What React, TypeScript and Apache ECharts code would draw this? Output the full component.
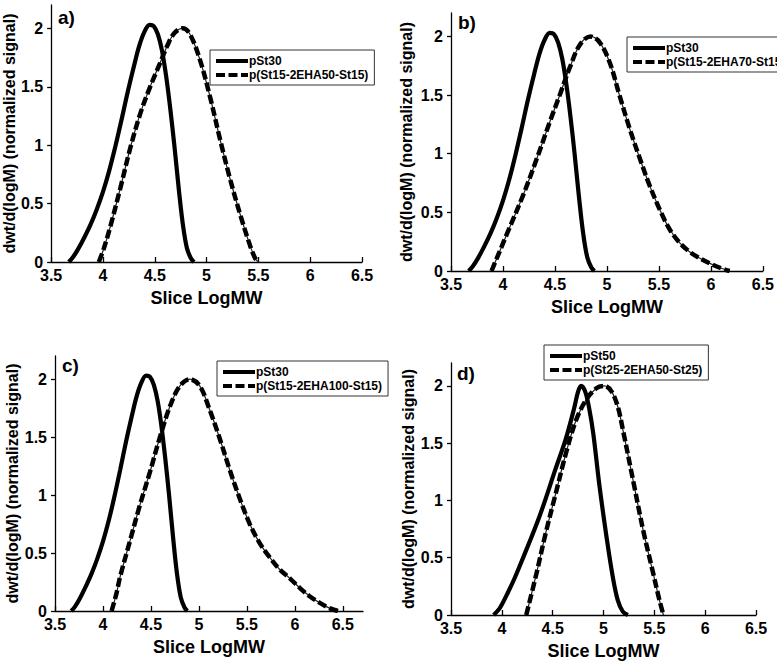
import React, { useEffect, useRef } from "react";
import * as echarts from "echarts";

// ---- data ----
const xTicks = [3.5, 4, 4.5, 5, 5.5, 6, 6.5];
const yTicks = [0, 0.5, 1, 1.5, 2];
const panelLabels = ["a)", "b)", "c)", "d)"];
const solidNames = ["pSt30", "pSt30", "pSt30", "pSt50"];
const dashedNames = [
  "p(St15-2EHA50-St15)",
  "p(St15-2EHA70-St15)",
  "p(St15-2EHA100-St15)",
  "p(St25-2EHA50-St25)",
];

const pSt30 = [
  [3.67, 0], [3.71, 0.04], [3.76, 0.11], [3.82, 0.21], [3.88, 0.32], [3.94, 0.45],
  [4.0, 0.6], [4.06, 0.78], [4.12, 0.99], [4.18, 1.22], [4.24, 1.46], [4.3, 1.68],
  [4.35, 1.85], [4.4, 1.97], [4.45, 2.03], [4.49, 2.02], [4.53, 1.95], [4.57, 1.81],
  [4.61, 1.59], [4.65, 1.31], [4.69, 0.99], [4.73, 0.64], [4.77, 0.33], [4.81, 0.12],
  [4.85, 0.03], [4.88, 0],
];
const pSt15EHA50 = [
  [3.96, 0], [4.01, 0.12], [4.07, 0.3], [4.17, 0.64], [4.265, 0.98], [4.36, 1.27],
  [4.46, 1.51], [4.55, 1.7], [4.62, 1.85], [4.69, 1.96], [4.77, 2.0], [4.84, 1.95],
  [4.94, 1.72], [5.04, 1.39], [5.13, 1.05], [5.23, 0.7], [5.33, 0.39], [5.42, 0.14],
  [5.47, 0.03], [5.5, 0],
];
const pSt15EHA70 = [
  [3.89, 0], [3.96, 0.15], [4.04, 0.32], [4.2, 0.66], [4.33, 0.97], [4.45, 1.27],
  [4.55, 1.51], [4.645, 1.74], [4.74, 1.93], [4.84, 2.0], [4.93, 1.95], [5.03, 1.77],
  [5.12, 1.5], [5.22, 1.21], [5.32, 0.95], [5.41, 0.73], [5.51, 0.52], [5.6, 0.36],
  [5.7, 0.24], [5.8, 0.16], [5.89, 0.11], [5.99, 0.065], [6.08, 0.03], [6.18, 0],
];
const pSt15EHA100 = [
  [4.09, 0], [4.14, 0.15], [4.18, 0.3], [4.28, 0.6], [4.38, 0.9], [4.49, 1.2],
  [4.59, 1.49], [4.7, 1.77], [4.8, 1.94], [4.905, 2.0], [5.01, 1.94], [5.11, 1.74],
  [5.22, 1.48], [5.32, 1.22], [5.43, 0.96], [5.53, 0.75], [5.63, 0.59], [5.74, 0.46],
  [5.84, 0.36], [5.95, 0.28], [6.05, 0.2], [6.15, 0.13], [6.26, 0.07], [6.36, 0.025],
  [6.45, 0],
];
const pSt50 = [
  [3.92, 0], [3.98, 0.06], [4.04, 0.16], [4.12, 0.31], [4.2, 0.48], [4.37, 0.86],
  [4.53, 1.28], [4.63, 1.54], [4.71, 1.8], [4.75, 1.95], [4.78, 2.0], [4.82, 1.95],
  [4.86, 1.8], [4.9, 1.58], [4.96, 1.13], [5.03, 0.68], [5.09, 0.34], [5.14, 0.13],
  [5.19, 0.03], [5.24, 0],
];
const pSt25EHA50 = [
  [4.24, 0], [4.34, 0.36], [4.43, 0.71], [4.53, 1.06], [4.63, 1.41], [4.73, 1.7],
  [4.83, 1.88], [4.93, 1.98], [5.01, 2.0], [5.08, 1.95], [5.14, 1.82], [5.19, 1.62],
  [5.29, 1.18], [5.39, 0.74], [5.49, 0.36], [5.55, 0.13], [5.59, 0],
];

const solidData = [pSt30, pSt30, pSt30, pSt50];
const dashedData = [pSt15EHA50, pSt15EHA70, pSt15EHA100, pSt25EHA50];

// ---- layout ----
const FONT = '"Liberation Sans", Arial, Helvetica, sans-serif';
const grids = [
  { left: 50, top: 5, width: 312, height: 257, xMax: 6.5, yGap: 31 },
  { left: 451, top: 13, width: 312, height: 258, xMax: 6.5, yGap: 37 },
  { left: 55, top: 356, width: 308, height: 255, xMax: 6.71, yGap: 34 },
  { left: 451, top: 363, width: 305, height: 252, xMax: 6.5, yGap: 33 },
];
const labelPos = [
  { left: 58, top: 8 },
  { left: 458, top: 13 },
  { left: 62, top: 356 },
  { left: 457, top: 364 },
];
const legendPos = [
  { left: 210, top: 50 },
  { left: 627, top: 37 },
  { left: 217, top: 361 },
  { left: 544, top: 345 },
];
const SMOOTH = 0.35;

function buildOption() {
  const grid: any[] = [];
  const xAxis: any[] = [];
  const yAxis: any[] = [];
  const series: any[] = [];
  const legend: any[] = [];
  const title: any[] = [];
  grids.forEach((g, i) => {
    grid.push({ left: g.left, top: g.top, width: g.width, height: g.height, containLabel: false });
    xAxis.push({
      type: "value",
      gridIndex: i,
      min: 3.5,
      max: g.xMax,
      name: "Slice LogMW",
      nameLocation: "middle",
      nameGap: 27,
      nameTextStyle: { fontFamily: FONT, fontSize: 18, fontWeight: "bold", color: "#000" },
      axisLine: { lineStyle: { color: "#000", width: 1.3 } },
      axisTick: { inside: true, length: 5, lineStyle: { color: "#000", width: 1.3 }, customValues: xTicks },
      axisLabel: { customValues: xTicks, margin: 5, fontFamily: FONT, fontSize: 16, fontWeight: "bold", color: "#000" },
      splitLine: { show: false },
    });
    yAxis.push({
      type: "value",
      gridIndex: i,
      min: 0,
      max: 2.2,
      name: "dwt/d(logM) (normalized signal)",
      nameLocation: "middle",
      nameGap: g.yGap,
      nameTextStyle: { fontFamily: FONT, fontSize: 16, fontWeight: "bold", color: "#000" },
      axisLine: { show: true, lineStyle: { color: "#000", width: 1.3 } },
      axisTick: { show: true, inside: false, length: 4, lineStyle: { color: "#000", width: 1.3 }, customValues: yTicks },
      axisLabel: { customValues: yTicks, margin: 8, fontFamily: FONT, fontSize: 16, fontWeight: "bold", color: "#000" },
      splitLine: { show: false },
    });
    series.push({
      type: "line",
      name: solidNames[i],
      xAxisIndex: i,
      yAxisIndex: i,
      data: solidData[i],
      showSymbol: false,
      symbol: "none",
      smooth: SMOOTH,
      lineStyle: { color: "#000", width: 4.2, type: "solid" },
      itemStyle: { color: "#000" },
      z: 3,
    });
    series.push({
      type: "line",
      name: "_under" + i,
      xAxisIndex: i,
      yAxisIndex: i,
      data: dashedData[i],
      symbol: "none",
      smooth: SMOOTH,
      silent: true,
      lineStyle: { color: "#222", width: 1.2 },
      z: 2,
    });
    series.push({
      type: "line",
      name: dashedNames[i],
      xAxisIndex: i,
      yAxisIndex: i,
      data: dashedData[i],
      symbol: "none",
      smooth: SMOOTH,
      lineStyle: { color: "#000", width: 4.5, type: [9, 3.5], cap: "butt" },
      itemStyle: { color: "#000" },
      z: 2,
    });
    legend.push({
      data: [solidNames[i], dashedNames[i]],
      left: legendPos[i].left,
      top: legendPos[i].top,
      orient: "vertical",
      padding: [5, 6, 4, 4],
      itemGap: 2,
      itemWidth: 32,
      itemHeight: 13,
      borderColor: "#333",
      borderWidth: 1,
      backgroundColor: "#fff",
      selectedMode: false,
      itemStyle: { opacity: 0 },
      lineStyle: { width: 4, type: "inherit", color: "#000" },
      textStyle: { fontFamily: FONT, fontSize: 12, fontWeight: "bold", color: "#000", padding: [0, 0, 0, -4] },
    });
    title.push({
      text: panelLabels[i],
      left: labelPos[i].left,
      top: labelPos[i].top,
      padding: 0,
      textStyle: { fontFamily: FONT, fontSize: 19, fontWeight: "bold", color: "#000" },
    });
  });
  return {
    animation: false,
    backgroundColor: "#fff",
    grid,
    xAxis,
    yAxis,
    series,
    legend,
    title,
  };
}

export default function App() {
  const ref = useRef<HTMLDivElement>(null);
  useEffect(() => {
    if (!ref.current) return;
    const chart = echarts.init(ref.current, undefined, { renderer: "svg" });
    chart.setOption(buildOption() as any);
    return () => chart.dispose();
  }, []);
  return (
    <div
      ref={ref}
      style={{ position: "fixed", left: 0, top: 0, width: 777, height: 664, background: "#fff" }}
    />
  );
}
